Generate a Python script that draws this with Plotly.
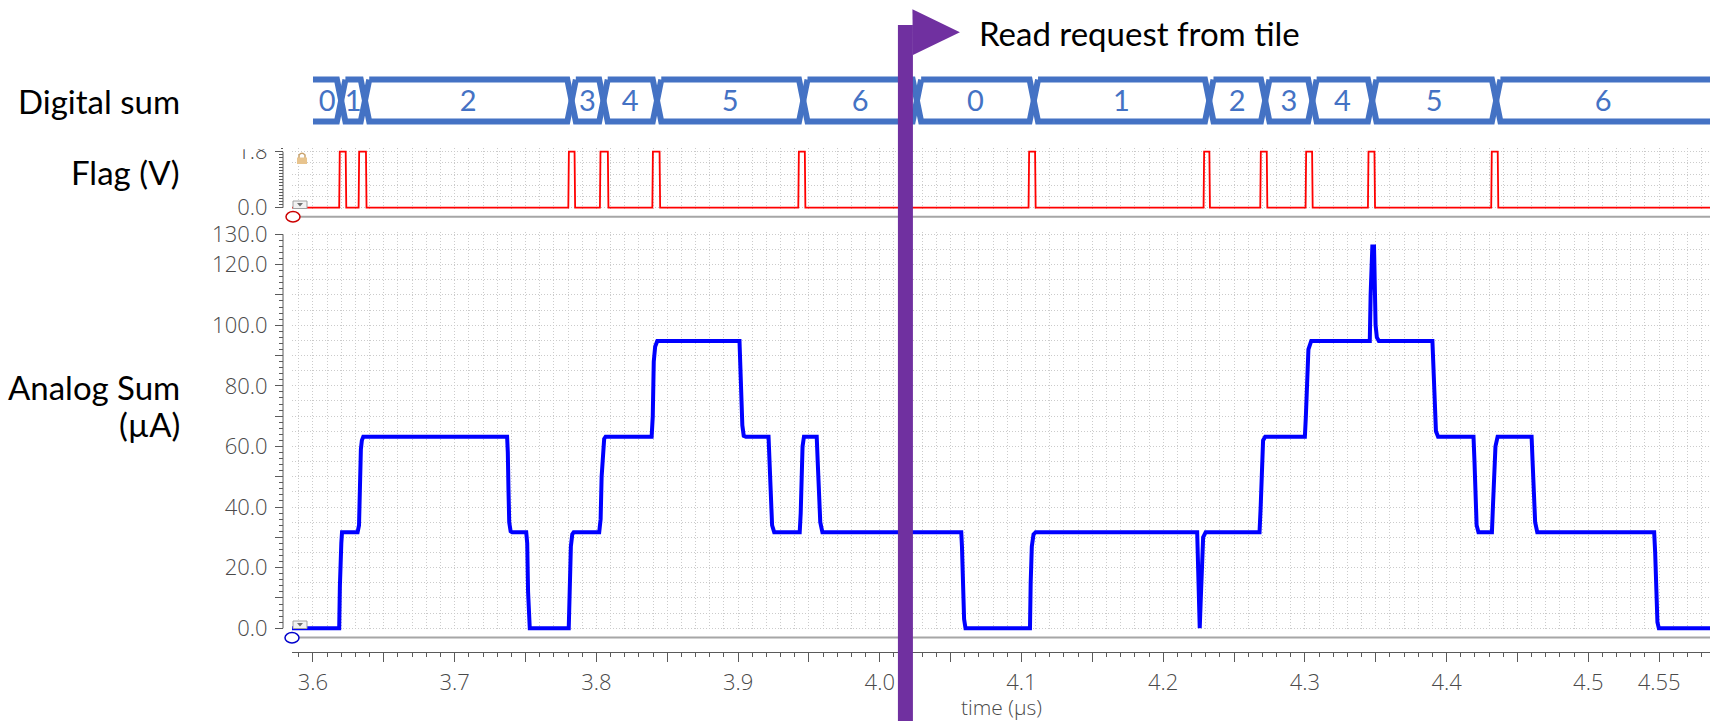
import plotly.graph_objects as go

W, H = 1710, 721

# ---------------------------------------------------------------- data
# visible time window (µs)
t_start, t_end = 3.5852, 4.5859

# analog summed current (µA): breakpoints of the waveform
analog_t = [
    3.5852, 3.6185, 3.6190, 3.6193, 3.6200, 3.6205,
    3.6315, 3.6325, 3.6330, 3.6338, 3.6345, 3.6355,
    3.7370, 3.7375, 3.7380, 3.7385, 3.7395, 3.7405,
    3.7505, 3.7512, 3.7518, 3.7523, 3.7530,
    3.7805, 3.7812, 3.7820, 3.7830, 3.7840,
    3.8020, 3.8030, 3.8037, 3.8045, 3.8055, 3.8065,
    3.8390, 3.8398, 3.8405, 3.8415, 3.8430,
    3.9010, 3.9015, 3.9022, 3.9030, 3.9040, 3.9055,
    3.9215, 3.9222, 3.9230, 3.9240, 3.9255,
    3.9435, 3.9442, 3.9448, 3.9455, 3.9465,
    3.9555, 3.9562, 3.9570, 3.9580, 3.9595,
    4.0575, 4.0580, 4.0588, 4.0595, 4.0605,
    4.1060, 4.1065, 4.1073, 4.1085, 4.1100,
    4.2240, 4.2245, 4.2252, 4.2258, 4.2264, 4.2272, 4.2282, 4.2300,
    4.2680, 4.2688, 4.2695, 4.2705, 4.2720,
    4.3000, 4.3007, 4.3015, 4.3025, 4.3045,
    4.3458, 4.3464, 4.3470, 4.3476, 4.3488, 4.3494, 4.3499, 4.3508, 4.3522,
    4.3900, 4.3907, 4.3915, 4.3925, 4.3940,
    4.4190, 4.4197, 4.4205, 4.4212, 4.4225,
    4.4320, 4.4327, 4.4335, 4.4345, 4.4360,
    4.4600, 4.4607, 4.4615, 4.4625, 4.4640,
    4.5465, 4.5472, 4.5480, 4.5488, 4.5498,
    4.5859,
]
analog_i = [
    0.0, 0.0, 14.0, 27.0, 28.0, 31.7,
    31.7, 34.0, 47.0, 59.0, 62.0, 63.2,
    63.2, 58.0, 45.0, 35.0, 32.0, 31.7,
    31.7, 28.0, 12.0, 3.0, 0.0,
    0.0, 15.0, 27.0, 31.0, 31.7,
    31.7, 36.0, 50.0, 59.0, 62.5, 63.2,
    63.2, 70.0, 88.0, 93.0, 94.8,
    94.8, 88.0, 75.0, 67.0, 63.5, 63.2,
    63.2, 55.0, 40.0, 34.0, 31.7,
    31.7, 38.0, 50.0, 60.0, 63.2,
    63.2, 55.0, 42.0, 35.0, 31.7,
    31.7, 27.0, 12.0, 3.0, 0.0,
    0.0, 15.0, 27.0, 31.0, 31.7,
    31.7, 20.0, 5.0, 0.0, 8.0, 22.0, 30.0, 31.7,
    31.7, 40.0, 55.0, 62.0, 63.2,
    63.2, 70.0, 85.0, 92.0, 94.8,
    94.8, 110.0, 121.0, 126.0, 126.0, 112.0, 100.0, 96.0, 94.8,
    94.8, 85.0, 72.0, 65.0, 63.2,
    63.2, 55.0, 40.0, 34.0, 31.7,
    31.7, 40.0, 52.0, 60.0, 63.2,
    63.2, 55.0, 42.0, 35.0, 31.7,
    31.7, 25.0, 10.0, 2.0, 0.0,
    0.0,
]

# flag pulses (V): rising and falling edge times
flag_on = [3.6185, 3.6322, 3.7802, 3.8025, 3.8395, 3.9425,
           4.1050, 4.2285, 4.2685, 4.3005, 4.3445, 4.4315]
flag_off = [3.6235, 3.6378, 3.7850, 3.8085, 3.8450, 3.9475,
            4.1100, 4.2330, 4.2735, 4.3055, 4.3495, 4.4365]
flag_high = 1.8

# digital sum bus: value changes
bus_edges = [3.6000, 3.6199, 3.6367, 3.7825, 3.8050, 3.8428, 3.9460,
             4.0262, 4.1087, 4.2325, 4.2720, 4.3053, 4.3475, 4.4350]
bus_values = [0, 1, 2, 3, 4, 5, 6, 0, 1, 2, 3, 4, 5, 6]

# read request marker
read_request_t = 4.0181

# axis ticks
x_ticks = [3.60, 3.65, 3.70, 3.75, 3.80, 3.85, 3.90, 3.95, 4.00, 4.05,
           4.10, 4.15, 4.20, 4.25, 4.30, 4.35, 4.40, 4.45, 4.50, 4.55]
x_labels = ["3.6", "", "3.7", "", "3.8", "", "3.9", "", "4.0", "",
            "4.1", "", "4.2", "", "4.3", "", "4.4", "", "4.5", "4.55"]
analog_ticks = [0, 10, 20, 30, 40, 50, 60, 70, 80, 90, 100, 110, 120, 130]
analog_labels = ["0.0", "", "20.0", "", "40.0", "", "60.0", "", "80.0", "",
                 "100.0", "", "120.0", "130.0"]
flag_ticks = [0.0, 1.8]
flag_labels = ["0.0", "1.8"]
flag_grid = [0.0, 0.36, 0.72, 1.08, 1.44, 1.8]


def px(x):
    return x / W


def py(y):
    return 1 - y / H


# ---------------------------------------------------------------- traces
flag_x, flag_y = [t_start], [0.0]
for on, off in zip(flag_on, flag_off):
    flag_x += [on, on + 0.0004, off - 0.0004, off]
    flag_y += [0.0, flag_high, flag_high, 0.0]
flag_x.append(t_end)
flag_y.append(0.0)

# bus outline: hexagonal segments, open at the far left and far right
chev = 0.003
bus_x, bus_y = [], []
bounds = bus_edges + [t_end + 0.02]
n = len(bus_values)
for k in range(n):
    a, b = bounds[k], bounds[k + 1]
    first, last = k == 0, k == n - 1
    la = a if first else a + chev
    rb = b if last else b - chev
    bus_x += [la, rb]
    bus_y += [1, 1]
    if not last:
        bus_x += [b, rb]
        bus_y += [0, -1]
    else:
        bus_x += [None, rb]
        bus_y += [None, -1]
    bus_x += [la]
    bus_y += [-1]
    if not first:
        bus_x += [a, la]
        bus_y += [0, 1]
    bus_x += [None]
    bus_y += [None]

bus_mid = [(bounds[k] + min(bounds[k + 1], t_end)) / 2 for k in range(n)]

BUS_BLUE = "#4472C4"
GRID = "#cbcbcb"
GRID_DASH = "1px,2px"
AXC = "#5a5a5a"
TICKFONT = dict(family="Open Sans", size=22, color="#4a4a4a", weight=300)

fig = go.Figure()
fig.add_trace(go.Scatter(x=flag_x, y=flag_y, mode="lines", xaxis="x", yaxis="y",
                         line=dict(color="#FF0000", width=1.8), hoverinfo="skip"))
fig.add_trace(go.Scatter(x=analog_t, y=analog_i, mode="lines", xaxis="x", yaxis="y2",
                         line=dict(color="#0000FF", width=4), hoverinfo="skip"))
fig.add_trace(go.Scatter(x=bus_x, y=bus_y, mode="lines", xaxis="x2", yaxis="y3",
                         line=dict(color=BUS_BLUE, width=6), hoverinfo="skip"))
fig.add_trace(go.Scatter(x=bus_mid, y=[-0.15] * n, mode="text", xaxis="x2", yaxis="y3",
                         text=[str(v) for v in bus_values], textposition="middle center",
                         textfont=dict(family="Lato", size=29, color=BUS_BLUE),
                         hoverinfo="skip"))
# anchors so the grid-only overlay axes get drawn
for yax in ("y4", "y5"):
    fig.add_trace(go.Scatter(x=[t_start], y=[0], mode="markers", xaxis="x", yaxis=yax,
                             marker=dict(opacity=0, size=1), hoverinfo="skip"))

# ---------------------------------------------------------------- axes
x_dom = [px(292), 1]
flag_range = [-0.074, 1.919]
analog_range = [-0.9, 130.76]

fig.update_layout(
    width=W, height=H,
    margin=dict(l=0, r=0, t=0, b=0, pad=0, autoexpand=False),
    paper_bgcolor="white", plot_bgcolor="white",
    showlegend=False,
    xaxis=dict(domain=x_dom, range=[t_start, t_end], anchor="free", position=py(652),
               showline=True, linecolor=AXC, linewidth=1,
               ticks="outside", ticklen=9, tickcolor=AXC, tickwidth=1,
               tickmode="array", tickvals=x_ticks, ticktext=x_labels,
               tickfont=TICKFONT, ticklabelstandoff=2, automargin=False,
               showgrid=True, gridcolor=GRID, griddash=GRID_DASH, gridwidth=1,
               zeroline=False,
               minor=dict(dtick=0.01, tick0=3.6, ticks="outside", ticklen=4,
                          tickcolor=AXC, showgrid=True, gridcolor=GRID,
                          griddash=GRID_DASH, gridwidth=1)),
    xaxis2=dict(domain=x_dom, range=[t_start, t_end], anchor="y3", visible=False,
                automargin=False),
    yaxis=dict(domain=[py(210), py(148)], range=flag_range, anchor="free",
               position=px(283), showline=False, zeroline=False, showgrid=False,
               ticks="outside", ticklen=8, tickcolor=AXC, automargin=False,
               tickmode="array", tickvals=flag_ticks, ticktext=flag_labels,
               tickfont=TICKFONT, ticklabelstandoff=3,
               minor=dict(dtick=0.1, tick0=0, ticks="outside", ticklen=4, tickcolor=AXC)),
    yaxis4=dict(overlaying="y", range=flag_range, anchor="x", showline=False,
                zeroline=False, showticklabels=False, ticks="", automargin=False,
                tickmode="array", tickvals=flag_grid,
                showgrid=True, gridcolor=GRID, griddash=GRID_DASH, gridwidth=1),
    yaxis2=dict(domain=[py(631), py(232)], range=analog_range, anchor="free",
                position=px(283), showline=False, zeroline=False, showgrid=False,
                ticks="outside", ticklen=8, tickcolor=AXC, automargin=False,
                tickmode="array", tickvals=analog_ticks, ticktext=analog_labels,
                tickfont=TICKFONT, ticklabelstandoff=3,
                minor=dict(dtick=2, tick0=0, ticks="outside", ticklen=4, tickcolor=AXC)),
    yaxis5=dict(overlaying="y2", range=analog_range, anchor="x", showline=False,
                zeroline=False, showticklabels=False, ticks="", automargin=False,
                dtick=5, tick0=0,
                showgrid=True, gridcolor=GRID, griddash=GRID_DASH, gridwidth=1),
    yaxis3=dict(domain=[py(142.6), py(58.6)], range=[-2, 2], anchor="x2", visible=False,
                automargin=False),
)

# ---------------------------------------------------------------- shapes
shapes = []
# ruler spines of the two y axes
shapes.append(dict(type="line", xref="paper", yref="y", x0=px(283), x1=px(283),
                   y0=flag_ticks[0], y1=flag_ticks[-1], line=dict(color=AXC, width=1)))
shapes.append(dict(type="line", xref="paper", yref="y2", x0=px(283), x1=px(283),
                   y0=analog_ticks[0], y1=analog_ticks[-1], line=dict(color=AXC, width=1)))
# panel baselines
for yb in (216.7, 637.5):
    shapes.append(dict(type="line", xref="paper", yref="paper", x0=px(292), x1=1,
                       y0=py(yb), y1=py(yb), line=dict(color="#a6a6a6", width=2)))
# trace handles at the left end of the baselines
shapes.append(dict(type="circle", xref="paper", yref="paper",
                   x0=px(286), x1=px(300), y0=py(222), y1=py(211.5),
                   line=dict(color="#cc0000", width=1.5), fillcolor="white"))
shapes.append(dict(type="circle", xref="paper", yref="paper",
                   x0=px(285), x1=px(299), y0=py(643), y1=py(632.5),
                   line=dict(color="#0000cc", width=1.5), fillcolor="white"))
# small collapse buttons
for top in (201.0, 621.0):
    shapes.append(dict(type="rect", xref="paper", yref="paper",
                       x0=px(293), x1=px(307), y0=py(top + 7.5), y1=py(top),
                       line=dict(color="#a0a0a0", width=1), fillcolor="#f2f2f2"))
    shapes.append(dict(type="path", xref="paper", yref="paper",
                       path=f"M {px(297)},{py(top + 2)} L {px(303)},{py(top + 2)} "
                            f"L {px(300)},{py(top + 5.5)} Z",
                       line=dict(width=0), fillcolor="#707070"))
# padlock glyph in the flag panel
shapes.append(dict(type="path", xref="paper", yref="paper",
                   path=f"M {px(299)},{py(158)} L {px(299)},{py(155)} "
                        f"Q {px(302)},{py(151.5)} {px(305)},{py(155)} L {px(305)},{py(158)}",
                   line=dict(color="#c9a36e", width=1.5)))
shapes.append(dict(type="rect", xref="paper", yref="paper",
                   x0=px(297), x1=px(307), y0=py(164), y1=py(157.5),
                   line=dict(width=0), fillcolor="#e8c48e"))
# the flag axis label block is cut off at the top
shapes.append(dict(type="rect", xref="paper", yref="paper", layer="above",
                   x0=px(200), x1=px(281), y0=py(149.3), y1=py(135),
                   line=dict(width=0), fillcolor="white"))
# read request marker (pole + pennant)
MARK = "#7030A0"
shapes.append(dict(type="rect", xref="x", xsizemode="pixel", xanchor=read_request_t,
                   x0=-7.5, x1=7.5, yref="paper", y0=0, y1=py(25),
                   line=dict(width=0), fillcolor=MARK, layer="above"))
shapes.append(dict(type="path", xref="x", xsizemode="pixel", xanchor=read_request_t,
                   yref="paper",
                   path=f"M 7,{py(9.3)} L 54.5,{py(32.3)} L 7.5,{py(55)} Z",
                   line=dict(width=0), fillcolor=MARK, layer="above"))
fig.update_layout(shapes=shapes)

# ---------------------------------------------------------------- text
LABEL = dict(family="Lato", size=33, color="black")
annotations = [
    dict(text="Digital sum", x=px(182), y=py(101)),
    dict(text="Flag (V)", x=px(182), y=py(172)),
    dict(text="Analog Sum", x=px(182), y=py(387)),
    dict(text="(µA)", x=px(182), y=py(424)),
]
for a in annotations:
    a.update(xref="paper", yref="paper", xanchor="right", yanchor="middle",
             showarrow=False, font=LABEL)
annotations.append(dict(text="Read request from tile", xref="x", x=read_request_t,
                        xshift=72, yref="paper", y=py(33), xanchor="left",
                        yanchor="middle", showarrow=False, font=LABEL))
annotations.append(dict(text="time (µs)", xref="paper", x=px(1001), yref="paper",
                        y=py(707), xanchor="center", yanchor="middle", showarrow=False,
                        font=dict(family="Open Sans", size=21, color="#4a4a4a", weight=300)))
fig.update_layout(annotations=annotations)

fig.write_html("out.html")
